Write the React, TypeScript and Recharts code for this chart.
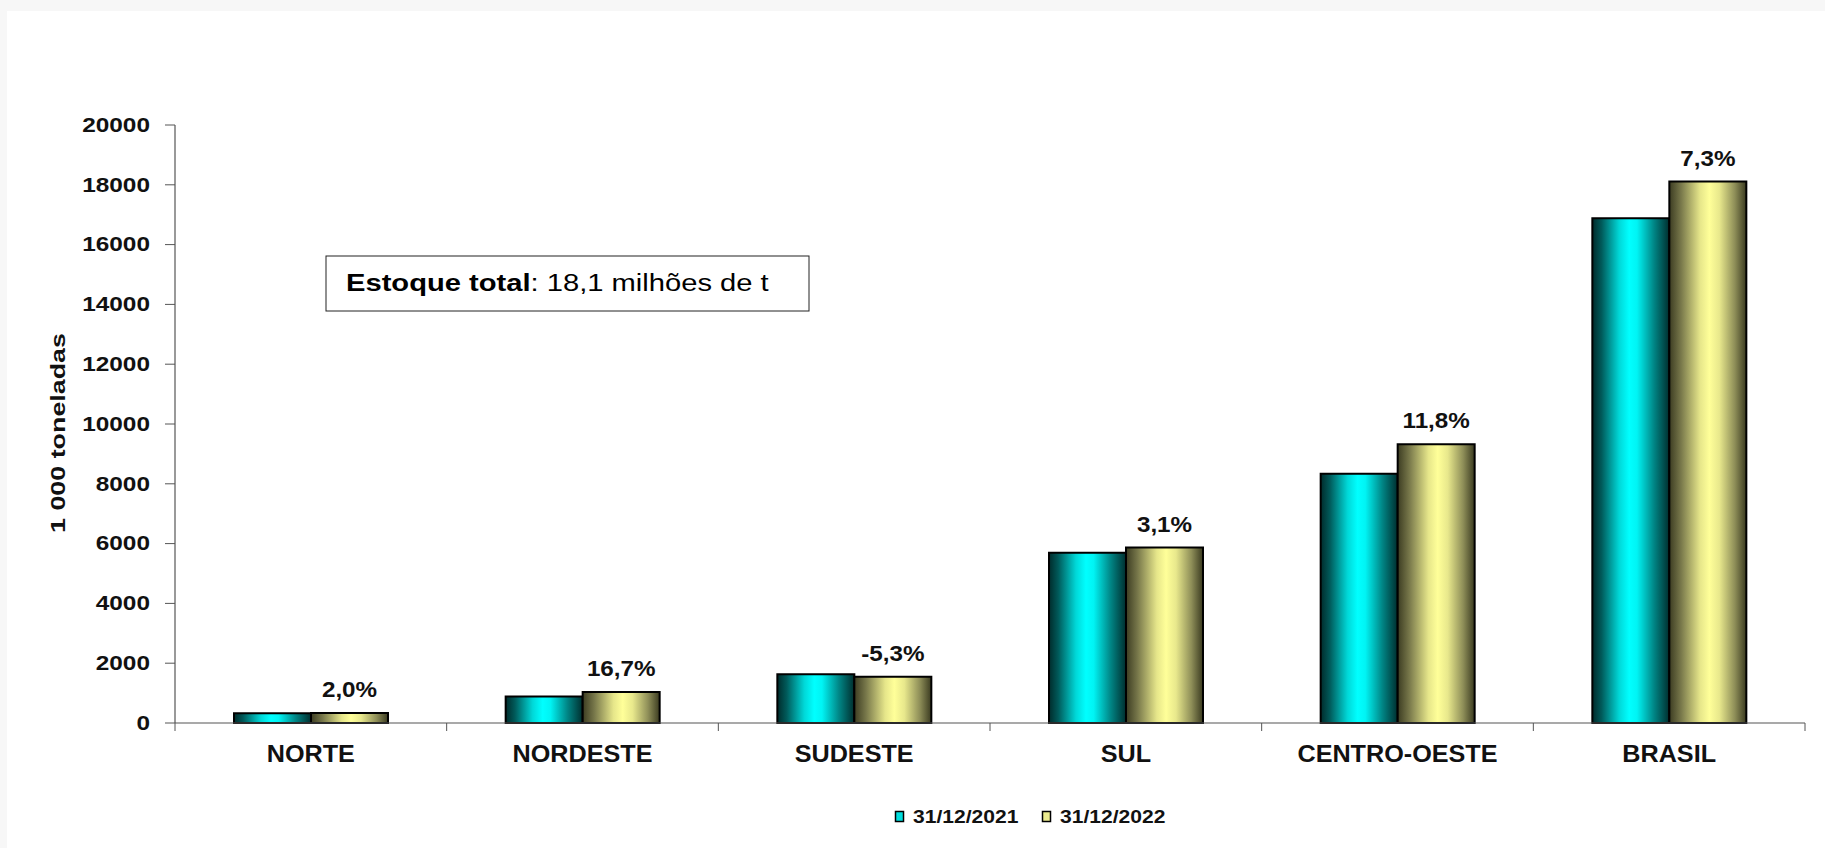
import React from "react"
import { BarChart, Bar, XAxis, YAxis, LabelList } from "recharts"

// Estoque por região (1 000 toneladas)
const regions = ["NORTE", "NORDESTE", "SUDESTE", "SUL", "CENTRO-OESTE", "BRASIL"]
const stock2021 = [330, 890, 1630, 5690, 8340, 16880]
const stock2022 = [337, 1039, 1544, 5866, 9324, 18112]
const changeLabels = ["2,0%", "16,7%", "-5,3%", "3,1%", "11,8%", "7,3%"]
const seriesNames = ["31/12/2021", "31/12/2022"]
const yTicks = [0, 2000, 4000, 6000, 8000, 10000, 12000, 14000, 16000, 18000, 20000]

const data = regions.map((region, i) => ({
  region,
  y2021: stock2021[i],
  y2022: stock2022[i],
  pct: changeLabels[i],
}))

const W = 1825
const H = 848
const PLOT_LEFT = 175
const PLOT_RIGHT = 1805
const PLOT_TOP = 125
const PLOT_BOTTOM = 723
const BAND = (PLOT_RIGHT - PLOT_LEFT) / regions.length
const AXIS = "#555"
const FONT = "Arial, 'Liberation Sans', sans-serif"

const YTick = (props: any) => {
  const { x, y, payload } = props
  return (
    <text
      transform={`translate(${x},${y}) scale(1.22,1)`}
      textAnchor="end"
      dominantBaseline="central"
      fontSize={20}
      fontWeight="bold"
      fontFamily={FONT}
      fill="#111"
    >
      {payload.value}
    </text>
  )
}

const XTick = (props: any) => {
  const { x, y, payload } = props
  const half = BAND / 2
  const last = payload.value === regions[regions.length - 1]
  return (
    <g>
      <line x1={x - half} x2={x - half} y1={y} y2={y + 8} stroke={AXIS} />
      {last && <line x1={x + half} x2={x + half} y1={y} y2={y + 8} stroke={AXIS} />}
      <text
        transform={`translate(${x},${y + 38.6}) scale(1.05,1)`}
        textAnchor="middle"
        fontSize={24}
        fontWeight="bold"
        fontFamily={FONT}
        fill="#111"
      >
        {payload.value}
      </text>
    </g>
  )
}

const PctLabel = (props: any) => {
  const { x, y, width, value } = props
  return (
    <text
      transform={`translate(${x + width / 2},${y - 15.8}) scale(1.1,1)`}
      textAnchor="middle"
      fontSize={22}
      fontWeight="bold"
      fontFamily={FONT}
      fill="#111"
    >
      {value}
    </text>
  )
}

export default function App() {
  const legendColors = ["#00dede", "#eaea8e"]
  const legendX = [895, 1042]

  return (
    <div
      style={{
        position: "absolute",
        left: 0,
        top: 0,
        width: W,
        height: H,
        background: "#f7f7f7",
        overflow: "hidden",
        fontFamily: FONT,
      }}
    >
      <div style={{ position: "absolute", left: 7, top: 11, right: 0, bottom: 0, background: "#fff" }} />
      <div style={{ position: "absolute", left: 0, top: 0 }}>
        <BarChart
          width={W}
          height={H}
          data={data}
          margin={{ top: PLOT_TOP, right: W - PLOT_RIGHT, bottom: H - PLOT_BOTTOM - 60, left: 0 }}
          barSize={77}
          barGap={0}
        >
          <defs>
            <linearGradient id="gradCyan" x1="0" y1="0" x2="1" y2="0">
              <stop offset="0%" stopColor="#002b2b" />
              <stop offset="12%" stopColor="#005a5a" />
              <stop offset="35%" stopColor="#00d8d8" />
              <stop offset="48%" stopColor="#00ffff" />
              <stop offset="58%" stopColor="#00f4f4" />
              <stop offset="80%" stopColor="#008686" />
              <stop offset="100%" stopColor="#002e2e" />
            </linearGradient>
            <linearGradient id="gradYellow" x1="0" y1="0" x2="1" y2="0">
              <stop offset="0%" stopColor="#3c3c22" />
              <stop offset="15%" stopColor="#77774a" />
              <stop offset="40%" stopColor="#e6e68a" />
              <stop offset="52%" stopColor="#ffff99" />
              <stop offset="65%" stopColor="#e8e88c" />
              <stop offset="85%" stopColor="#8e8e58" />
              <stop offset="100%" stopColor="#3a3a20" />
            </linearGradient>
          </defs>
          <XAxis
            dataKey="region"
            height={60}
            tickSize={0}
            tickMargin={0}
            tickLine={false}
            axisLine={{ stroke: AXIS, strokeWidth: 1.2 }}
            tick={<XTick />}
            interval={0}
          />
          <YAxis
            width={PLOT_LEFT}
            domain={[0, 20000]}
            ticks={yTicks}
            interval={0}
            tickSize={10}
            tickMargin={15}
            tickLine={{ stroke: AXIS }}
            axisLine={{ stroke: AXIS, strokeWidth: 1.2 }}
            tick={<YTick />}
          />
          <Bar dataKey="y2021" name={seriesNames[0]} fill="url(#gradCyan)" stroke="#000" strokeWidth={2} isAnimationActive={false} />
          <Bar dataKey="y2022" name={seriesNames[1]} fill="url(#gradYellow)" stroke="#000" strokeWidth={2} isAnimationActive={false}>
            <LabelList dataKey="pct" content={<PctLabel />} />
          </Bar>
        </BarChart>
      </div>
      <svg
        width={W}
        height={H}
        style={{ position: "absolute", left: 0, top: 0, pointerEvents: "none" }}
        fontFamily={FONT}
      >
        <text
          transform="translate(57.5,433) rotate(-90) scale(1.31,1)"
          textAnchor="middle"
          dominantBaseline="central"
          fontSize={20.5}
          fontWeight="bold"
          fill="#111"
        >
          1 000 toneladas
        </text>

        <rect x={326} y={256} width={483} height={55} fill="#fff" stroke="#222" strokeWidth={1} />
        <text transform="translate(346,290.7) scale(1.215,1)" fontSize={24} fill="#000">
          <tspan fontWeight="bold">Estoque total</tspan>
          <tspan>: 18,1 milhões de t</tspan>
        </text>

        {seriesNames.map((name, i) => (
          <g key={name}>
            <rect x={legendX[i] + 0.5} y={811.5} width={8} height={10} fill={legendColors[i]} stroke="#000" strokeWidth={1.5} />
            <text
              transform={`translate(${legendX[i] + 18},823.4) scale(1.17,1)`}
              fontSize={18}
              fontWeight="bold"
              fill="#111"
            >
              {name}
            </text>
          </g>
        ))}
      </svg>
    </div>
  )
}
